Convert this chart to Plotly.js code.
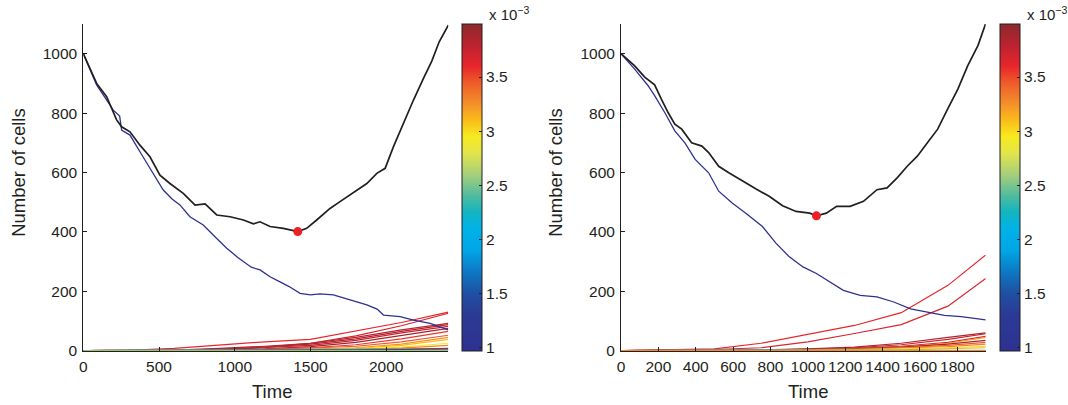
<!DOCTYPE html>
<html>
<head>
<meta charset="utf-8">
<script src="https://cdn.plot.ly/plotly-3.0.1.min.js"></script>
<style>html,body{margin:0;padding:0;background:#fff;}#chart{width:1068px;height:405px;}</style>
</head>
<body>
<div id="chart"></div>
<script>
// ---------------- DATA ----------------
// Left panel: total population (black) and ancestral clone (blue)
const leftTotalT = [0, 88, 154, 220, 253, 308, 374, 440, 506, 572, 660, 738, 804, 881, 969, 1057, 1123, 1167, 1233, 1321, 1416, 1475, 1541, 1629, 1695, 1783, 1872, 1938, 1993, 2048, 2114, 2180, 2246, 2301, 2350, 2410];
const leftTotalN = [1000, 900, 855, 777, 754, 737, 692, 653, 591, 563, 530, 490, 494, 457, 451, 440, 427, 434, 418, 412, 401, 412, 440, 479, 502, 532, 563, 597, 614, 687, 766, 844, 917, 975, 1040, 1096];
const leftAncT = [0, 88, 198, 240, 253, 308, 382, 450, 528, 586, 638, 704, 792, 881, 947, 1018, 1109, 1167, 1233, 1299, 1359, 1431, 1500, 1563, 1651, 1762, 1872, 1940, 1982, 2092, 2180, 2290, 2410];
const leftAncN = [1000, 895, 810, 790, 743, 726, 663, 607, 541, 511, 491, 451, 423, 378, 345, 315, 281, 272, 249, 232, 216, 193, 188, 191, 188, 171, 154, 140, 120, 115, 103, 92, 70];
const leftMinT = [1416];
const leftMinN = [401];
// Left panel: mutant sub-clones (time grid, growth rate x1e-3, sizes)
const leftSubT = [0, 300, 600, 900, 1200, 1500, 1800, 2100, 2410];
const leftSubRate = [3.6, 3.7, 3.8, 3.85, 3.75, 3.9, 3.55, 3.45, 3.25, 3.1, 2.95, 3.3, 2.35, 2.05, 2.5, 1.6, 3.9, 2.45, 2.6];
const leftSubN = [
  [0, 1, 8, 20, 30, 38, 66, 95, 130],
  [0, 0, 1, 4, 12, 25, 50, 84, 126],
  [0, 0, 2, 8, 15, 25, 45, 70, 92],
  [0, 0, 1, 5, 12, 22, 40, 65, 88],
  [0, 0, 1, 4, 10, 18, 35, 60, 82],
  [0, 0, 0, 2, 6, 14, 28, 50, 75],
  [0, 0, 0, 2, 5, 10, 20, 40, 65],
  [0, 0, 0, 1, 3, 8, 15, 30, 52],
  [0, 0, 0, 1, 2, 5, 10, 22, 45],
  [0, 0, 0, 0, 2, 4, 8, 18, 38],
  [0, 0, 0, 0, 1, 3, 6, 12, 25],
  [0, 0, 0, 0, 1, 2, 4, 9, 18],
  [0, 0, 1, 2, 4, 5, 5, 6, 7],
  [0, 0, 1, 2, 3, 4, 4, 4, 5],
  [0, 1, 1, 2, 2, 2, 3, 3, 3],
  [0, 0, 0, 1, 1, 1, 2, 2, 2],
  [0, 0, 0, 0, 1, 1, 2, 4, 8],
  [0, 0, 0, 0, 0, 0, 0, 0, 0],
  [0, 0, 0, 0, 0, 0, 0, 0, 0]
];

// Right panel
const rightTotalT = [0, 72, 127, 180, 216, 252, 288, 325, 378, 433, 469, 523, 577, 649, 721, 793, 865, 937, 1010, 1046, 1099, 1154, 1226, 1298, 1370, 1424, 1478, 1532, 1586, 1640, 1695, 1748, 1803, 1856, 1911, 1952];
const rightTotalN = [1000, 960, 921, 895, 847, 802, 763, 746, 700, 689, 667, 621, 599, 571, 545, 520, 488, 469, 463, 454, 463, 486, 486, 503, 542, 548, 582, 621, 655, 700, 746, 813, 881, 960, 1028, 1102];
const rightAncT = [0, 72, 144, 180, 234, 288, 342, 397, 469, 523, 595, 668, 757, 829, 901, 974, 1046, 1118, 1190, 1280, 1370, 1460, 1550, 1640, 1731, 1820, 1952];
const rightAncN = [1000, 949, 893, 859, 802, 740, 700, 644, 599, 537, 497, 463, 418, 362, 316, 282, 260, 232, 203, 186, 181, 164, 141, 130, 119, 115, 104];
const rightMinT = [1046];
const rightMinN = [454];
const rightSubT = [0, 250, 500, 750, 1000, 1250, 1500, 1750, 1952];
const rightSubRate = [3.6, 3.65, 3.85, 3.75, 3.7, 3.2, 3.9, 3.45, 3.3, 3.0, 3.15, 2.0, 2.4, 3.35, 3.25];
const rightSubN = [
  [0, 2, 6, 25, 55, 85, 128, 220, 322],
  [0, 1, 4, 10, 30, 58, 88, 150, 243],
  [0, 0, 1, 3, 6, 12, 25, 45, 60],
  [0, 0, 1, 2, 5, 10, 20, 38, 57],
  [0, 0, 0, 2, 4, 8, 15, 28, 48],
  [0, 0, 0, 1, 3, 6, 12, 25, 45],
  [0, 0, 0, 1, 3, 6, 12, 22, 35],
  [0, 0, 0, 1, 2, 5, 10, 18, 28],
  [0, 0, 0, 1, 2, 4, 8, 14, 22],
  [0, 0, 0, 0, 1, 3, 6, 10, 15],
  [0, 0, 0, 0, 1, 2, 3, 6, 10],
  [0, 1, 3, 2, 1, 1, 0, 0, 0],
  [0, 0, 1, 1, 1, 1, 1, 1, 1],
  [0, 0, 0, 0, 0, 0, 0, 0, 0],
  [0, 0, 0, 0, 0, 0, 0, 0, 0]
];

const rateTicks = [1, 1.5, 2, 2.5, 3, 3.5];
const rateTickText = ['1', '1.5', '2', '2.5', '3', '3.5'];
const leftXTicks = [0, 500, 1000, 1500, 2000];
const rightXTicks = [0, 200, 400, 600, 800, 1000, 1200, 1400, 1600, 1800];
const yTicks = [0, 200, 400, 600, 800, 1000];

// ---------------- STYLE ----------------
const RMIN = 0.97, RMAX = 3.99;
const scaleStops = [
  [0.000, '#2e3192'], [0.109, '#2b3a94'], [0.175, '#1f4fa2'], [0.242, '#0d78c4'],
  [0.308, '#00a6e6'], [0.374, '#00b2e8'], [0.424, '#12b5c0'], [0.474, '#4fbb9f'],
  [0.540, '#a7cf7b'], [0.606, '#e3e54a'], [0.656, '#f7ea1e'], [0.705, '#fbbc1a'],
  [0.755, '#f39129'], [0.821, '#ee5a2a'], [0.871, '#e7262b'], [0.937, '#bb2230'],
  [1.000, '#8c2a2b']
];
function hex2rgb(h){return [parseInt(h.substr(1,2),16),parseInt(h.substr(3,2),16),parseInt(h.substr(5,2),16)];}
function colorAt(v){
  const f = Math.max(0, Math.min(1, (v - RMIN) / (RMAX - RMIN)));
  for (let i = 1; i < scaleStops.length; i++) {
    if (f <= scaleStops[i][0]) {
      const a = scaleStops[i-1], b = scaleStops[i];
      const u = (f - a[0]) / (b[0] - a[0]);
      const ca = hex2rgb(a[1]), cb = hex2rgb(b[1]);
      return 'rgb(' + ca.map((c, k) => Math.round(c + (cb[k] - c) * u)).join(',') + ')';
    }
  }
  return scaleStops[scaleStops.length-1][1];
}
const INK = '#231f20';
const FONT = 'Liberation Sans, Arial, Helvetica, sans-serif';
const W = 1068, H = 405;

function panelTraces(subT, subRate, subN, totT, totN, ancT, ancN, minT, minN, xa, ya, cbx){
  const tr = [];
  subN.forEach((n, i) => {
    tr.push({type:'scatter', mode:'lines', x: subT, y: n, xaxis: xa, yaxis: ya,
      line:{color: colorAt(subRate[i]), width: 1.2}, hoverinfo:'skip', showlegend:false});
  });
  tr.push({type:'scatter', mode:'lines', x: ancT, y: ancN, xaxis: xa, yaxis: ya,
    line:{color:'#2e3192', width:1.3}, showlegend:false});
  tr.push({type:'scatter', mode:'lines', x: totT, y: totN, xaxis: xa, yaxis: ya,
    line:{color: INK, width:1.7}, showlegend:false});
  tr.push({type:'scatter', mode:'markers', x: minT, y: minN, xaxis: xa, yaxis: ya,
    marker:{color:'#ed2024', size:9}, showlegend:false});
  // colour bar carrier
  tr.push({type:'scatter', mode:'markers', x:[null], y:[null], xaxis: xa, yaxis: ya, showlegend:false,
    hoverinfo:'skip',
    marker:{color:[RMIN, RMAX], cmin: RMIN, cmax: RMAX, colorscale: scaleStops, showscale:true, opacity:0,
      colorbar:{x: cbx/W, xanchor:'left', xpad:0, ypad:0, y: 1 - 24/H, yanchor:'top',
        len: (351-24)/H, lenmode:'fraction', thickness:20, thicknessmode:'pixels',
        outlinewidth:1, outlinecolor: INK, borderwidth:0,
        tickmode:'array', tickvals: rateTicks, ticktext: rateTickText,
        ticks:'inside', ticklen:3, tickcolor: INK,
        tickfont:{family: FONT, size:15.5, color: INK}}}});
  return tr;
}

const traces = [].concat(
  panelTraces(leftSubT, leftSubRate, leftSubN, leftTotalT, leftTotalN, leftAncT, leftAncN, leftMinT, leftMinN, 'x', 'y', 461.7),
  panelTraces(rightSubT, rightSubRate, rightSubN, rightTotalT, rightTotalN, rightAncT, rightAncN, rightMinT, rightMinN, 'x2', 'y2', 1000)
);

function xAxis(dom, range, ticks, anchor){
  return {domain: dom, range: range, anchor: anchor, tickmode:'array', tickvals: ticks,
    showline:true, linecolor: INK, linewidth:1, ticks:'inside', ticklen:4, tickcolor: INK,
    showgrid:false, zeroline:false, tickfont:{family: FONT, size:15.5, color: INK}, ticklabelstandoff: 2};
}
function yAxis(dom, ticks, anchor){
  return {domain: dom, range:[0, 1100], anchor: anchor, tickmode:'array', tickvals: ticks,
    showline:true, linecolor: INK, linewidth:1, ticks:'inside', ticklen:4, tickcolor: INK,
    showgrid:false, zeroline:false, tickfont:{family: FONT, size:15.5, color: INK}, ticklabelstandoff: 2};
}
const yDom = [1 - 350.7/H, 1 - 24/H];
const titleFont = {family: FONT, size:18.5, color: INK};
const layout = {
  width: W, height: H, margin:{l:0, r:0, t:0, b:0}, paper_bgcolor:'#fff', plot_bgcolor:'#fff',
  showlegend:false, hovermode:false,
  xaxis: xAxis([83.3/W, 448.3/W], [0, 2410], leftXTicks, 'y'),
  yaxis: yAxis(yDom, yTicks, 'x'),
  xaxis2: xAxis([621/W, 985.7/W], [0, 1952], rightXTicks, 'y2'),
  yaxis2: yAxis(yDom, yTicks, 'x2'),
  annotations: [
    {text:'Number of cells', xref:'paper', yref:'paper', x:18.3/W, y:1-172.5/H, textangle:-90, showarrow:false, font:titleFont, xanchor:'center', yanchor:'middle'},
    {text:'Number of cells', xref:'paper', yref:'paper', x:555.3/W, y:1-172.5/H, textangle:-90, showarrow:false, font:titleFont, xanchor:'center', yanchor:'middle'},
    {text:'Time', xref:'paper', yref:'paper', x:272.3/W, y:1-391.7/H, showarrow:false, font:titleFont, xanchor:'center', yanchor:'middle'},
    {text:'Time', xref:'paper', yref:'paper', x:808.3/W, y:1-391.7/H, showarrow:false, font:titleFont, xanchor:'center', yanchor:'middle'},
    {text:'x 10<sup>−3</sup>', xref:'paper', yref:'paper', x:487/W, y:1-13/H, showarrow:false, font:{family: FONT, size:15, color: INK}, xanchor:'left', yanchor:'middle'},
    {text:'x 10<sup>−3</sup>', xref:'paper', yref:'paper', x:1025/W, y:1-13/H, showarrow:false, font:{family: FONT, size:15, color: INK}, xanchor:'left', yanchor:'middle'}
  ]
};
Plotly.newPlot('chart', traces, layout, {staticPlot:true, displayModeBar:false});
</script>
</body>
</html>
